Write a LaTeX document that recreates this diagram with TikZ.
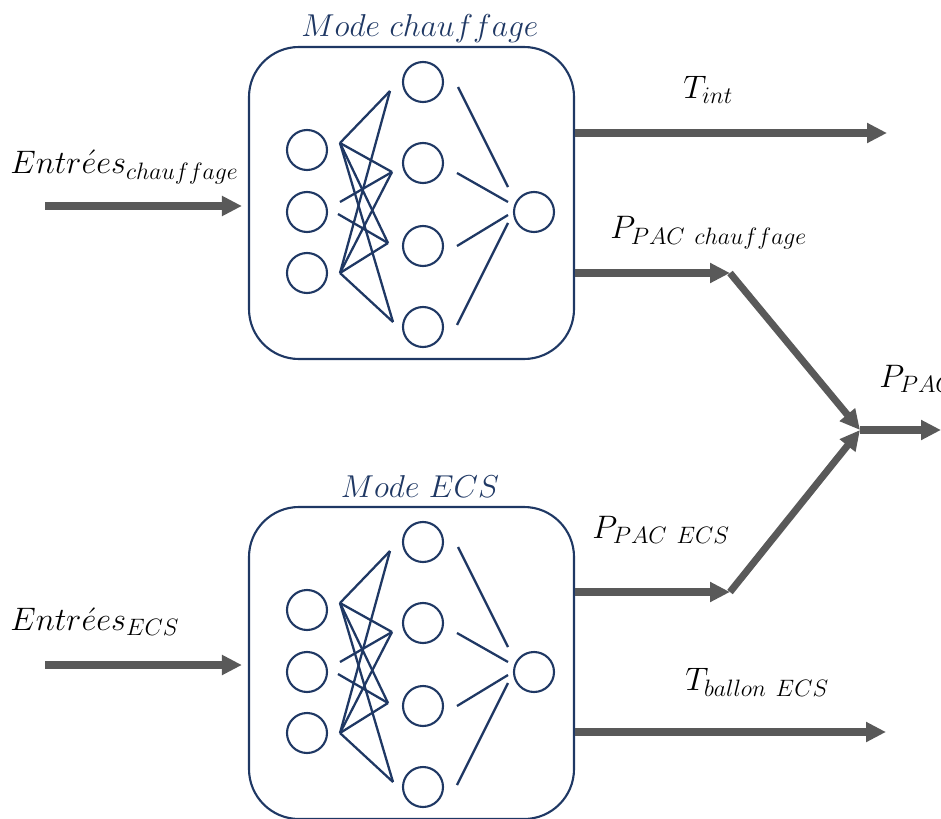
\documentclass[tikz,border=0pt]{standalone}
\usepackage{tikz}
\usetikzlibrary{arrows.meta}
\usepackage{xcolor}
% tailles continues pour les fontes mathematiques
\DeclareFontShape{OML}{cmm}{m}{it}{<-6>cmmi5<6-7>cmmi6<7-8>cmmi7<8-9>cmmi8<9-10>cmmi9<10-12>cmmi10<12->cmmi12}{}
\DeclareFontShape{OT1}{cmr}{m}{n}{<-6>cmr5<6-7>cmr6<7-8>cmr7<8-9>cmr8<9-10>cmr9<10-12>cmr10<12-17>cmr12<17->cmr17}{}
\DeclareMathSizes{18.5}{18.5}{13.5}{10}
\DeclareMathSizes{18}{18}{13}{10}
\definecolor{bleunn}{HTML}{1F3864}
\definecolor{grisfl}{HTML}{595959}
\tikzstyle{cadre} = [rectangle, rounded corners=10mm, minimum width=65mm, minimum height=62.4mm,
    draw=bleunn, line width=1.2pt]
\tikzstyle{neurone} = [circle, minimum size=8mm, inner sep=0pt, draw=bleunn, line width=1.2pt]
\tikzstyle{lien} = [draw=bleunn, line width=1.3pt]
\tikzstyle{fleche} = [draw=grisfl, line width=4pt, -{Triangle[length=4mm, width=3.8mm]}]
\tikzstyle{titre} = [font=\fontsize{18}{21}\selectfont, text=bleunn, inner sep=0pt, anchor=base]
\tikzstyle{lbl} = [font=\fontsize{18.5}{22}\selectfont, inner sep=0pt, anchor=base west]

% reseau de neurones dans son cadre : #1 prefixe, #2 decalage vertical, #3 titre
\newcommand{\reseau}[3]{%
\begin{scope}[shift={(0,#2)}]
\node (#1box) [cadre] at (411.5,203) {};
\node (#1titre) [titre] at (420,37) {$#3$};
\node (#1i1) [neurone] at (307,150) {};
\node (#1i2) [neurone] at (307,212) {};
\node (#1i3) [neurone] at (307,273) {};
\node (#1h1) [neurone] at (423,82) {};
\node (#1h2) [neurone] at (423,163) {};
\node (#1h3) [neurone] at (423,246) {};
\node (#1h4) [neurone] at (423,327) {};
\node (#1o) [neurone] at (534,212) {};
% points d'accroche des liens
\coordinate (#1a1) at (340,143);
\coordinate (#1a2) at (340,202);
\coordinate (#1a2b) at (338,214);
\coordinate (#1a3) at (340,273);
\coordinate (#1b1) at (390,91);
\coordinate (#1b2) at (392,172);
\coordinate (#1b3) at (388,243);
\coordinate (#1b4) at (393,322);
\coordinate (#1c1) at (458,87);
\coordinate (#1c2) at (457,173);
\coordinate (#1c3) at (457,246);
\coordinate (#1c4) at (457,325);
\coordinate (#1d1) at (508,187);
\coordinate (#1d2) at (508,202);
\coordinate (#1d3) at (508,215);
\coordinate (#1d4) at (508,223);
\foreach \b in {b1,b2,b3,b4} {
  \draw[lien] (#1a1) -- (#1\b);
  \draw[lien] (#1a3) -- (#1\b);
}
\draw[lien] (#1a2) -- (#1b2);
\draw[lien] (#1a2b) -- (#1b3);
\draw[lien] (#1c1) -- (#1d1);
\draw[lien] (#1c2) -- (#1d2);
\draw[lien] (#1c3) -- (#1d3);
\draw[lien] (#1c4) -- (#1d4);
\end{scope}}

\begin{document}
\begin{tikzpicture}[x=0.2mm, y=-0.2mm]
\useasboundingbox (0,0) rectangle (941,818);

\reseau{C}{0}{Mode\ chauffage}
\reseau{E}{460}{Mode\ ECS}

\coordinate (inC) at (45,206);
\coordinate (inE) at (45,665);
\coordinate (tintC) at (887,133);
\coordinate (pchC) at (730,273);
\coordinate (pecsE) at (730,592);
\coordinate (tbalE) at (886,732);
\coordinate (jonc) at (860,430);
\coordinate (pac) at (941,430);

\draw[fleche, shorten >=1.2mm] (inC) -- (Cbox.west |- inC);
\draw[fleche, shorten >=1.2mm] (inE) -- (Ebox.west |- inE);
\draw[fleche] (Cbox.east |- tintC) -- (tintC);
\draw[fleche] (Cbox.east |- pchC) -- (pchC);
\draw[fleche] (Ebox.east |- pecsE) -- (pecsE);
\draw[fleche] (Ebox.east |- tbalE) -- (tbalE);
\draw[fleche] (pchC) -- (jonc);
\draw[fleche] (pecsE) -- (jonc);
\draw[fleche] (jonc) -- (pac);

\node (lblinC) [lbl] at (10,173) {$Entr\acute{e}es_{chauffage}$};
\node (lblinE) [lbl] at (10,630) {$Entr\acute{e}es_{ECS}$};
\node (lbltint) [lbl] at (683,98) {$T_{int}$};
\node (lblpch) [lbl] at (610,238) {$P_{PAC\ chauffage}$};
\node (lblpecs) [lbl] at (592,538) {$P_{PAC\ ECS}$};
\node (lbltbal) [lbl] at (685,690) {$T_{ballon\ ECS}$};
\node (lblpac) [lbl] at (879,387) {$P_{PAC}$};
\end{tikzpicture}
\end{document}
